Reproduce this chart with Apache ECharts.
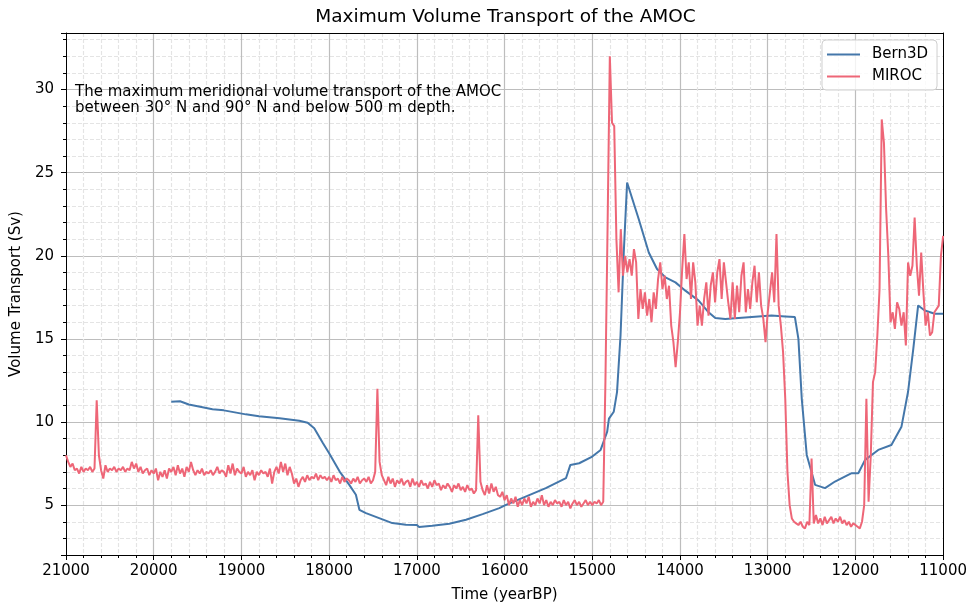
<!DOCTYPE html>
<html><head><meta charset="utf-8">
<script src="https://cdn.jsdelivr.net/npm/echarts@6/dist/echarts.min.js"></script>
<style>html,body{margin:0;padding:0;background:#fff}#c{width:970px;height:608px}</style>
</head><body><div id="c"></div>
<script>
// ---- data ----
const chartTitle = 'Maximum Volume Transport of the AMOC';
const xAxisName = 'Time (yearBP)';
const yAxisName = 'Volume Transport (Sv)';
const noteLines = ['The maximum meridional volume transport of the AMOC', 'between 30\u00b0 N and 90\u00b0 N and below 500 m depth.'];
const seriesNames = ['Bern3D', 'MIROC'];

const bernYears = [19800,19700,19600,19500,19330,19200,18950,18800,18565,18340,18245,18170,18070,18000,17880,17770,17695,17655,17580,17430,17280,17125,17000,16975,16825,16630,16440,16250,16060,15990,15530,15300,15250,15150,15000,14905,14830,14810,14755,14718,14678,14641,14603,14470,14356,14262,14166,14052,13939,13787,13674,13598,13484,13219,12957,12800,12690,12650,12612,12555,12460,12346,12233,12043,11967,11890,11740,11590,11475,11400,11340,11285,11210,11095,11000];
const bernValues = [11.22,11.25,11.05,10.95,10.77,10.70,10.46,10.35,10.22,10.08,9.96,9.62,8.72,8.12,7.02,6.22,5.62,4.72,4.52,4.22,3.92,3.82,3.80,3.68,3.76,3.88,4.12,4.46,4.82,5.00,6.02,6.62,7.42,7.52,7.92,8.32,9.42,10.2,10.62,11.8,15.2,20.2,24.41,22.2,20.2,19.2,18.7,18.4,17.9,17.3,16.6,16.25,16.2,16.3,16.4,16.35,16.31,15.0,11.41,8.02,6.22,6.02,6.42,6.92,6.92,7.72,8.32,8.62,9.72,11.82,14.41,17.01,16.71,16.51,16.51];

// MIROC sampled every 25 years from 21000 BP to 11000 BP
const mirocStartYear = 21000;
const mirocStepYears = 25;
const mirocValues = [
 8.0,7.6,7.3,7.5,7.1,7.2,6.9,7.3,7.0,7.2, 7.1,7.3,7.0,7.2,11.3,8.0,7.1,6.6,7.4,7.0, 7.2,7.1,7.3,7.0,7.2,7.1,7.3,7.0,7.2,7.1, 7.6,7.2,7.5,7.0,7.3,6.9,7.1,7.2,6.8,7.1,
 6.9,7.2,6.5,7.0,6.7,7.1,6.6,7.2,7.0,7.3, 6.8,7.4,6.9,7.2,6.7,7.3,7.0,7.6,7.1,6.8, 7.1,6.9,7.2,6.8,7.0,6.9,7.1,6.8,7.0,7.3, 6.9,7.1,7.0,6.7,7.4,6.9,7.5,6.8,7.2,7.0,
 6.9,7.3,6.7,7.0,6.8,7.1,6.5,7.0,6.8,7.1, 6.9,7.0,6.7,7.2,6.3,7.0,7.3,6.9,7.6,7.0, 7.5,6.8,7.3,6.9,6.3,6.6,6.1,6.5,6.7,6.4, 6.8,6.5,6.7,6.6,6.9,6.5,6.8,6.6,6.7,6.5,
 6.7,6.4,6.8,6.5,6.6,6.3,6.7,6.4,6.6,6.5, 6.3,6.6,6.4,6.7,6.3,6.5,6.6,6.4,6.7,6.3, 6.5,7.0,12.0,7.6,6.8,6.5,6.2,6.7,6.3,6.6, 6.1,6.5,6.3,6.6,6.2,6.4,6.5,6.1,6.6,6.2,
 6.4,6.1,6.5,6.2,6.3,6.0,6.4,6.1,6.5,6.2, 6.3,5.9,6.2,6.0,6.3,6.1,5.8,6.2,6.0,6.3, 5.9,6.1,5.8,6.2,5.9,6.0,5.7,5.9,10.4,6.4, 5.9,5.6,6.2,5.7,6.3,5.8,6.1,5.6,5.5,5.8,
 5.3,5.6,5.0,5.4,5.1,5.5,4.9,5.3,5.0,5.4, 5.1,5.5,4.9,5.2,5.0,5.4,5.1,5.6,5.0,5.3, 4.9,5.2,5.0,5.3,5.1,5.2,4.9,5.3,5.0,5.2, 4.8,5.1,5.3,5.0,5.2,4.9,5.1,5.3,5.0,5.2,
 5.0,5.2,5.1,5.3,5.0,5.2,12.5,22.0,32.0,28.0, 27.8,21.0,17.8,21.6,18.8,20.0,19.0,19.8,18.8,20.4, 19.6,16.2,18.0,16.8,17.8,16.4,17.4,16.0,17.8,16.8, 18.6,19.6,18.0,18.8,17.4,18.2,15.8,14.8,13.3,14.8,
 16.6,19.2,21.3,18.6,19.6,17.4,19.6,18.4,15.8,17.0, 15.8,17.4,18.4,16.4,18.2,19.0,17.2,19.0,19.8,17.4, 19.6,18.4,17.2,16.2,18.4,16.2,18.2,16.6,18.8,19.6, 16.6,18.0,16.8,18.4,19.4,17.2,19.0,17.0,16.2,14.8,
 16.6,17.8,19.0,17.2,21.3,17.0,15.8,14.2,11.4,7.0, 5.0,4.2,4.0,3.9,3.8,4.0,3.7,3.6,4.0,3.8, 7.8,3.9,4.4,3.9,4.2,3.8,4.3,3.9,4.1,4.3, 3.9,4.2,4.0,4.3,3.9,4.1,3.8,4.0,3.7,3.9,
 3.8,3.7,3.6,4.0,5.0,11.4,5.2,8.0,12.4,13.0, 15.2,18.0,28.2,26.8,22.8,20.0,16.0,16.6,15.6,17.2, 16.8,15.8,16.6,14.6,19.6,18.8,19.4,22.3,19.4,17.6, 20.2,17.8,15.8,16.6,15.2,15.4,16.6,16.8,17.0,20.0,
 21.2
];

const xMin = 11000, xMax = 21000, xStep = 1000;
const yMin = 2, yMax = 33.4, yStep = 5;

// ---- chart ----
const FONT = 'DejaVu Sans';
const bernData = bernYears.map((y, i) => [y, bernValues[i]]);
const mirocData = mirocValues.map((v, i) => [mirocStartYear - i * mirocStepYears, v]);

const chart = echarts.init(document.getElementById('c'), null, {renderer: 'canvas'});
const plainAxis = (pos, isX) => ({
  type: 'value', position: pos, min: isX ? xMin : yMin, max: isX ? xMax : yMax,
  inverse: isX, axisLine: {show: true, onZero: false, lineStyle: {color: '#000', width: 1}},
  axisTick: {show: false}, axisLabel: {show: false}, splitLine: {show: false}
});
const majorGrid = {color: '#bdbdbd', width: 1.2};
const minorGrid = {color: '#e4e4e4', width: 1.2, type: [4, 2]};
chart.setOption({
  animation: false,
  backgroundColor: '#fff',
  textStyle: {fontFamily: FONT},
  grid: {left: 66, right: 25, top: 33, bottom: 51},
  legend: {
    orient: 'vertical', left: 822, top: 40, padding: [7, 9, 6, 5], itemGap: 7,
    itemWidth: 33, itemHeight: 2, icon: 'rect',
    backgroundColor: 'rgba(255,255,255,0.8)', borderColor: '#cfcfcf', borderWidth: 1, borderRadius: 4,
    textStyle: {fontSize: 15, color: '#000', fontFamily: FONT, padding: [0, 0, 0, 7]},
    data: seriesNames
  },
  graphic: [
    {type: 'text', x: 505.5, y: 17.5, style: {text: chartTitle, font: '18.5px "DejaVu Sans"', fill: '#000', textAlign: 'center', textVerticalAlign: 'middle'}},
    {type: 'text', x: 75, y: 92, z: 10, style: {text: noteLines[0], font: '15px "DejaVu Sans"', fill: '#000', textAlign: 'left', textVerticalAlign: 'middle'}},
    {type: 'text', x: 75, y: 108, z: 10, style: {text: noteLines[1], font: '15px "DejaVu Sans"', fill: '#000', textAlign: 'left', textVerticalAlign: 'middle'}}
  ],
  xAxis: [{
    type: 'value', min: xMin, max: xMax, interval: xStep, inverse: true,
    name: xAxisName, nameLocation: 'middle', nameGap: 33,
    nameTextStyle: {fontSize: 15, color: '#000', fontFamily: FONT},
    axisLine: {show: true, onZero: false, lineStyle: {color: '#000', width: 1}},
    axisTick: {show: true, length: 5, lineStyle: {color: '#000'}},
    minorTick: {show: true, splitNumber: 5, length: 3, lineStyle: {color: '#000'}},
    axisLabel: {color: '#000', fontSize: 15, margin: 9, fontFamily: FONT, formatter: v => String(v)},
    splitLine: {show: true, showMinLine: false, showMaxLine: false, lineStyle: majorGrid},
    minorSplitLine: {show: true, lineStyle: minorGrid}
  }, plainAxis('top', true)],
  yAxis: [{
    type: 'value', min: yMin, max: yMax, minInterval: yStep, maxInterval: yStep,
    name: yAxisName, nameLocation: 'middle', nameGap: 37,
    nameTextStyle: {fontSize: 15, color: '#000', fontFamily: FONT},
    axisLine: {show: true, onZero: false, lineStyle: {color: '#000', width: 1}},
    axisTick: {show: true, length: 5, lineStyle: {color: '#000'}},
    minorTick: {show: true, splitNumber: 5, length: 3, lineStyle: {color: '#000'}},
    axisLabel: {color: '#000', fontSize: 15, margin: 12, fontFamily: FONT, showMinLabel: false, showMaxLabel: false,
      formatter: v => (v % yStep === 0 ? String(v) : '')},
    splitLine: {show: true, showMinLine: false, showMaxLine: false, lineStyle: majorGrid},
    minorSplitLine: {show: true, lineStyle: minorGrid}
  }, plainAxis('right', false)],
  series: [
    {name: seriesNames[0], type: 'line', data: bernData, showSymbol: false, symbol: 'none',
     lineStyle: {color: '#4477AA', width: 2}, itemStyle: {color: '#4477AA'}, z: 3},
    {name: seriesNames[1], type: 'line', data: mirocData, showSymbol: false, symbol: 'none',
     lineStyle: {color: '#EE6677', width: 2}, itemStyle: {color: '#EE6677'}, z: 4}
  ]
});
</script></body></html>
